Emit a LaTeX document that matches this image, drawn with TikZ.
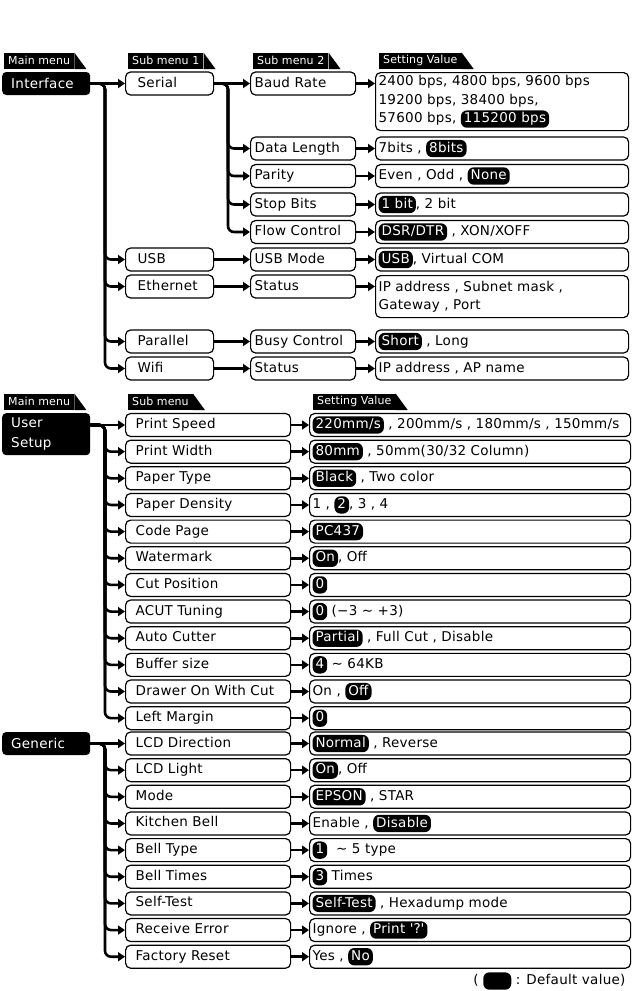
\documentclass[tikz,border=0pt]{standalone}
\usepackage{fontspec}
\setmainfont{DejaVu Sans}
\newfontfamily\boxfont{DejaVu Sans}[LetterSpace=2]
\newfontfamily\tabfont{DejaVu Sans}[LetterSpace=1]
\usetikzlibrary{arrows.meta}

\tikzset{
  conn/.style={line width=2.6pt, ->},
  mainbox/.style={fill=black, text=white, rounded corners=4pt, anchor=west,
    minimum height=23pt, text width=70pt, inner xsep=9pt, align=left,
    font=\boxfont\fontsize{13.5}{20}\selectfont},
  subbox/.style={draw, line width=1.2pt, rounded corners=5pt, anchor=west,
    minimum height=23pt, inner ysep=2pt, align=left, text height=10pt, text depth=3pt,
    font=\boxfont\fontsize{13.5}{18}\selectfont},
  subA/.style={subbox, text width=64pt, inner xsep=12pt},
  subB/.style={subbox, text width=97pt, inner xsep=4pt},
  subC/.style={subbox, text width=145pt, inner xsep=10pt},
  valbox/.style={draw, line width=1.2pt, rounded corners=5pt, anchor=west,
    minimum height=23pt, inner xsep=3pt, inner ysep=2pt, align=left,
    font=\boxfont\fontsize{13.5}{18.5}\selectfont},
  valA/.style={valbox, text width=247pt},
  valC/.style={valbox, text width=315pt},
  oneline/.style={text height=12.3pt, text depth=5pt},
  dvbox/.style={fill=black, text=white, rounded corners=6pt, inner xsep=3pt, inner ysep=2.5pt,
    minimum height=0pt, minimum width=0pt, text height=9.8pt, text depth=2.5pt, anchor=base},
  tabs/.style={fill=black, text=white, inner xsep=4pt, inner ysep=0pt, minimum height=16pt,
    anchor=south west, font=\tabfont\fontsize{11}{12}\selectfont,
    append after command={\pgfextra{\fill (\tikzlastnode.north east) -- (\tikzlastnode.south east)
      -- ([xshift=12pt]\tikzlastnode.south east) -- cycle;}}}
}
\newcommand{\dv}[1]{\tikz[baseline]\node[dvbox]{#1};}

\begin{document}
\begin{tikzpicture}[x=1pt, y=-1pt, >={Triangle[length=7pt,width=9pt]}]
  \useasboundingbox (0,0) rectangle (632,991);
  \coordinate (t1) at (105,0);
  \coordinate (t2) at (228,0);

  % interface
  \node[tabs] (m1) at (4,69) {Main menu};
  \node[tabs] (s1) at (128,69) {Sub menu 1};
  \node[tabs] (s2) at (253,69) {Sub menu 2};
  \node[tabs] (sv1) at (379,69) {Setting Value};

  \node[mainbox] (iface) at (2,83.5) {Interface};
  \node[subA] (serial) at (125,83.5) {Serial};
  \node[subA] (usb) at (125,259.5) {USB};
  \node[subA] (eth) at (125,286.5) {Ethernet};
  \node[subA] (par) at (125,341.5) {Parallel};
  \node[subA] (wifi) at (125,368.5) {Wifi};

  \node[subB] (baud) at (250,83.5) {Baud Rate};
  \node[subB] (dlen) at (250,148.5) {Data Length};
  \node[subB] (parity) at (250,176) {Parity};
  \node[subB] (stop) at (250,204.5) {Stop Bits};
  \node[subB] (flow) at (250,232) {Flow Control};
  \node[subB] (usbmode) at (250,259.5) {USB Mode};
  \node[subB] (ethstat) at (250,286.5) {Status};
  \node[subB] (busy) at (250,341.5) {Busy Control};
  \node[subB] (wifistat) at (250,368.5) {Status};

  \node[valA, anchor=north west, minimum height=58pt] (baudv) at (375,72)
    {2400 bps, 4800 bps, 9600 bps\\19200 bps, 38400 bps,\\57600 bps, \dv{115200 bps}};
  \node[valA, oneline] (dlenv) at (375,148.5) {7bits , \dv{8bits}};
  \node[valA, oneline] (parityv) at (375,176) {Even , Odd , \dv{None}};
  \node[valA, oneline] (stopv) at (375,204.5) {\dv{1 bit}, 2 bit};
  \node[valA, oneline] (flowv) at (375,232) {\dv{DSR/DTR} , XON/XOFF};
  \node[valA, oneline] (usbv) at (375,259.5) {\dv{USB}, Virtual COM};
  \node[valA, anchor=north west, minimum height=42pt] (ethv) at (375,275)
    {IP address , Subnet mask ,\\Gateway , Port};
  \node[valA, oneline] (busyv) at (375,341.5) {\dv{Short} , Long};
  \node[valA, oneline] (wifiv) at (375,368.5) {IP address , AP name};

  \draw[conn] (iface) -- (serial);
  \foreach \c in {usb, eth, par, wifi}
    \draw[conn, rounded corners=6pt] (iface.east) -| (t1 |- \c) -- (\c);
  \draw[conn] (serial) -- (baud);
  \foreach \c in {dlen, parity, stop, flow}
    \draw[conn, rounded corners=6pt] (serial.east) -| (t2 |- \c) -- (\c);
  \draw[conn] (usb) -- (usbmode);
  \draw[conn] (eth) -- (ethstat);
  \draw[conn] (par) -- (busy);
  \draw[conn] (wifi) -- (wifistat);
  \draw[conn] (baud.east) -- (baud.east -| baudv.west);
  \draw[conn] (ethstat.east) -- (ethstat.east -| ethv.west);
  \foreach \a/\b in {dlen/dlenv, parity/parityv, stop/stopv, flow/flowv, usbmode/usbv, busy/busyv, wifistat/wifiv}
    \draw[conn] (\a) -- (\b);

  % user setup
  \node[tabs] (m2) at (4,410) {Main menu};
  \node[tabs] (s3) at (128,410) {Sub menu};
  \node[tabs] (sv2) at (313,410) {Setting Value};
  \node[mainbox, anchor=north west, minimum height=42pt] (user) at (2,413) {User\\Setup};

  \foreach \lbl/\val [count=\i] in {
      Print Speed/{\dv{220mm/s} , 200mm/s , 180mm/s , 150mm/s},
      Print Width/{\dv{80mm} , 50mm(30/32 Column)},
      Paper Type/{\dv{Black} , Two color},
      Paper Density/{1 , \dv{2}, 3 , 4},
      Code Page/{\dv{PC437}},
      Watermark/{\dv{On}, Off},
      Cut Position/{\dv{0}},
      ACUT Tuning/{\dv{0} (−3 ∼ +3)},
      Auto Cutter/{\dv{Partial} , Full Cut , Disable},
      Buffer size/{\dv{4} ∼ 64KB},
      Drawer On With Cut/{On , \dv{Off}},
      Left Margin/{\dv{0}}} {
    \node[subC] (a\i) at (125,{425+26.65*(\i-1)}) {\lbl};
    \node[valC, oneline] (av\i) at (309,{425+26.65*(\i-1)}) {\val};
    \draw[conn] (a\i) -- (av\i);
    \ifnum\i=1
      \draw[conn] (user.east |- a1) -- (a1);
    \else
      \draw[conn, rounded corners=6pt] (user.east |- a1) -| (t1 |- a\i) -- (a\i);
    \fi
  }

  % generic
  \node[mainbox] (gen) at (2,743.5) {Generic};
  \foreach \lbl/\val [count=\i] in {
      LCD Direction/{\dv{Normal} , Reverse},
      LCD Light/{\dv{On}, Off},
      Mode/{\dv{EPSON} , STAR},
      Kitchen Bell/{Enable , \dv{Disable}},
      Bell Type/{\dv{1} \ ∼ 5 type},
      Bell Times/{\dv{3} Times},
      Self-Test/{\dv{Self-Test} , Hexadump mode},
      Receive Error/{Ignore , \dv{Print \textquotesingle?\textquotesingle}},
      Factory Reset/{Yes , \dv{No}}} {
    \node[subC] (g\i) at (125,{743.5+26.65*(\i-1)}) {\lbl};
    \node[valC, oneline] (gv\i) at (309,{743.5+26.65*(\i-1)}) {\val};
    \draw[conn] (g\i) -- (gv\i);
    \ifnum\i=1
      \draw[conn] (gen) -- (g1);
    \else
      \draw[conn, rounded corners=6pt] (gen.east) -| (t1 |- g\i) -- (g\i);
    \fi
  }

  \node[anchor=east, font=\boxfont\fontsize{13.5}{16}\selectfont] (legend) at (629,981)
    {( \tikz[baseline]\node[dvbox, minimum width=28pt]{}; : Default value)};
\end{tikzpicture}
\end{document}
